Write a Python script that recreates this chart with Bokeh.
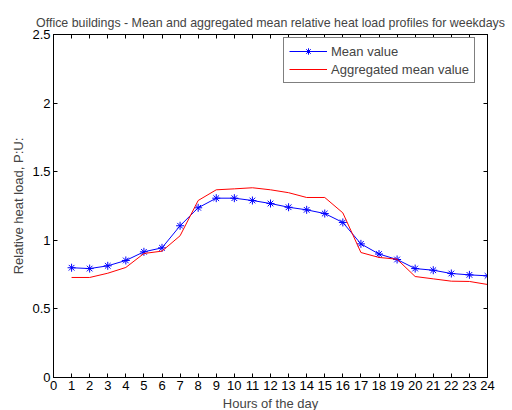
from bokeh.plotting import figure
from bokeh.models import LinearAxis, Range1d, FixedTicker, CustomJSTickFormatter, Legend, LegendItem
from bokeh.embed import file_html
from bokeh.resources import INLINE

hours = list(range(1, 25))
mean_value = [0.80, 0.794, 0.814, 0.853, 0.916, 0.945, 1.106, 1.237, 1.307, 1.307, 1.29, 1.268,
              1.241, 1.222, 1.195, 1.130, 0.974, 0.90, 0.860, 0.794, 0.782, 0.758, 0.748, 0.741]
agg_mean_value = [0.729, 0.729, 0.760, 0.802, 0.904, 0.921, 1.033, 1.290, 1.368, 1.375, 1.383, 1.368,
                  1.347, 1.312, 1.312, 1.200, 0.911, 0.875, 0.862, 0.736, 0.719, 0.702, 0.700, 0.678]
x_ticks = list(range(0, 25))
y_ticks = [0, 0.5, 1, 1.5, 2, 2.5]

FONT = "Liberation Sans"

p = figure(frame_width=434, frame_height=343, output_backend="svg", toolbar_location=None,
           x_range=Range1d(0, 24), y_range=Range1d(0, 2.5),
           min_border_left=53, min_border_right=20, min_border_top=34, min_border_bottom=6,
           background_fill_color="white", border_fill_color="white")
p.grid.visible = False
p.outline_line_color = "black"
p.outline_line_width = 1

p.title.text = "Office buildings - Mean and aggregated mean relative heat load profiles for weekdays"
p.title.text_font = FONT
p.title.text_font_size = "12.4px"
p.title.text_font_style = "normal"
p.title.align = "center"
p.title.offset = 0

fmt = CustomJSTickFormatter(code="return tick.toString();")
blank = CustomJSTickFormatter(code="return '';")

def style_axis(ax, ticks, show_labels=True):
    ax.ticker = FixedTicker(ticks=ticks)
    ax.major_tick_in = 4
    ax.major_tick_out = 0
    ax.minor_tick_line_color = None
    ax.axis_line_color = "black"
    ax.major_tick_line_color = "black"
    ax.major_label_text_font = FONT
    ax.major_label_text_color = "black"
    ax.major_label_text_font_size = "13px"
    if show_labels:
        ax.formatter = fmt
        ax.major_label_standoff = 3
    else:
        ax.formatter = blank
        ax.major_label_standoff = 0

style_axis(p.xaxis[0], x_ticks)
style_axis(p.yaxis[0], y_ticks)
p.xaxis[0].axis_label = "Hours of the day"
p.yaxis[0].axis_label = "Relative heat load, P:U:"
for ax in (p.xaxis[0], p.yaxis[0]):
    ax.axis_label_text_font = FONT
    ax.axis_label_text_font_size = "13px"
    ax.axis_label_text_font_style = "normal"
    ax.axis_label_standoff = 3

top_ax = LinearAxis()
right_ax = LinearAxis()
style_axis(top_ax, x_ticks, show_labels=False)
style_axis(right_ax, y_ticks, show_labels=False)
p.add_layout(top_ax, "above")
p.add_layout(right_ax, "right")

r_mean = p.line(hours, mean_value, line_color="#0000ff", line_width=1)
m_mean = p.scatter(hours, mean_value, marker="asterisk", size=8, line_color="#0000ff", line_width=1)
r_agg = p.line(hours, agg_mean_value, line_color="#ff0000", line_width=1)

legend = Legend(items=[LegendItem(label="Mean value", renderers=[r_mean, m_mean]),
                       LegendItem(label="Aggregated mean value", renderers=[r_agg])],
                location=(230, 294))
legend.border_line_color = "black"
legend.border_line_width = 1
legend.label_text_font = FONT
legend.label_text_font_size = "13px"
legend.glyph_width = 38
legend.glyph_height = 16
legend.spacing = 2
legend.padding = 5
legend.margin = 0
legend.label_standoff = 4
legend.background_fill_alpha = 1
p.add_layout(legend, "center")

open("out.html", "w").write(file_html(p, INLINE))
